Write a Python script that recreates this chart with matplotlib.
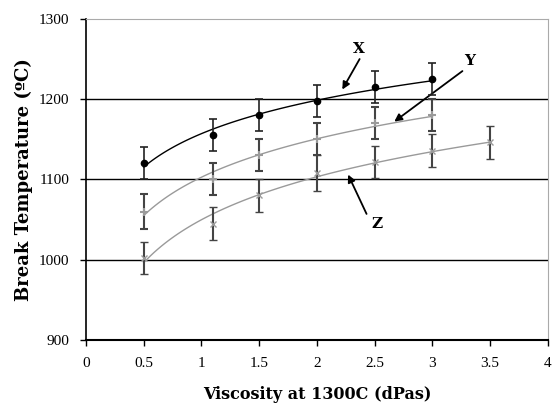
import numpy as np
import matplotlib.pyplot as plt

# === Data ===
x_vals = [0.5, 1.1, 1.5, 2.0, 2.5, 3.0]
x_temp = [1120, 1155, 1180, 1198, 1215, 1225]
x_err = [20, 20, 20, 20, 20, 20]

y_vals = [0.5, 1.1, 1.5, 2.0, 2.5, 3.0]
y_temp = [1060, 1100, 1130, 1150, 1170, 1180]
y_err = [22, 20, 20, 20, 20, 20]

z_vals = [0.5, 1.1, 1.5, 2.0, 2.5, 3.0, 3.5]
z_temp = [1002, 1045, 1080, 1108, 1122, 1136, 1146]
z_err = [20, 20, 20, 22, 20, 20, 20]

xticks = [0, 0.5, 1, 1.5, 2, 2.5, 3, 3.5, 4]
yticks = [900, 1000, 1100, 1200, 1300]

plt.rcParams['font.family'] = 'Liberation Serif'

fig = plt.figure(figsize=(5.54, 4.11), dpi=100)
ax = fig.add_axes([0.155, 0.173, 0.834, 0.781])

# horizontal gridlines
for v in [1000, 1100, 1200]:
    ax.axhline(v, color='black', lw=1.0, zorder=1)


def log_fit(xs, ys, color):
    a, b = np.polyfit(np.log(xs), ys, 1)
    xx = np.linspace(min(xs), max(xs), 100)
    ax.plot(xx, a * np.log(xx) + b, color=color, lw=1.0, zorder=2)


grey = '#9a9a9a'
log_fit(z_vals, z_temp, grey)
log_fit(y_vals, y_temp, grey)
log_fit(x_vals, x_temp, 'black')

ax.errorbar(z_vals, z_temp, yerr=z_err, fmt='x', color=grey, ms=5, mew=1,
            ecolor='#444444', elinewidth=1.5, capsize=3, capthick=1.5, zorder=3)
ax.errorbar(y_vals, y_temp, yerr=y_err, fmt='+', color=grey, ms=6, mew=1.5,
            ecolor='#444444', elinewidth=1.5, capsize=3, capthick=1.5, zorder=3)
ax.errorbar(x_vals, x_temp, yerr=x_err, fmt='o', color='black', ms=4.5,
            ecolor='#222222', elinewidth=1.2, capsize=3, capthick=1.2, zorder=4)

# annotations
bold = dict(family='DejaVu Serif', fontsize=11, fontweight='bold',
            ha='center', va='center')
arrow = dict(arrowstyle='-|>', color='black', lw=1.3, mutation_scale=11,
             shrinkA=0, shrinkB=0)
ax.annotate('', xy=(2.22, 1212), xytext=(2.37, 1250), arrowprops=arrow)
ax.text(2.36, 1263, 'X', **bold)
ax.annotate('', xy=(2.67, 1172), xytext=(3.26, 1235), arrowprops=arrow)
ax.text(3.32, 1248, 'Y', **bold)
ax.annotate('', xy=(2.27, 1106), xytext=(2.43, 1057), arrowprops=arrow)
ax.text(2.52, 1045, 'Z', **bold)

ax.set_xlim(0, 4)
ax.set_ylim(900, 1300)
ax.set_xticks(xticks)
ax.set_xticklabels([f'{t:g}' for t in xticks])
ax.set_yticks(yticks)
ax.tick_params(labelsize=11, length=4, width=1, pad=8)

ax.spines['top'].set_color('#aaaaaa')
ax.spines['right'].set_color('#aaaaaa')
ax.spines['left'].set_linewidth(1.2)
ax.spines['bottom'].set_linewidth(1.5)

ax.set_xlabel('Viscosity at 1300C (dPas)', family='DejaVu Serif', fontsize=11.5,
              fontweight='bold', labelpad=12)
ax.set_ylabel('Break Temperature (ºC)', family='DejaVu Serif', fontsize=13,
              fontweight='bold', labelpad=4)

fig.savefig('out.png', dpi=100)
